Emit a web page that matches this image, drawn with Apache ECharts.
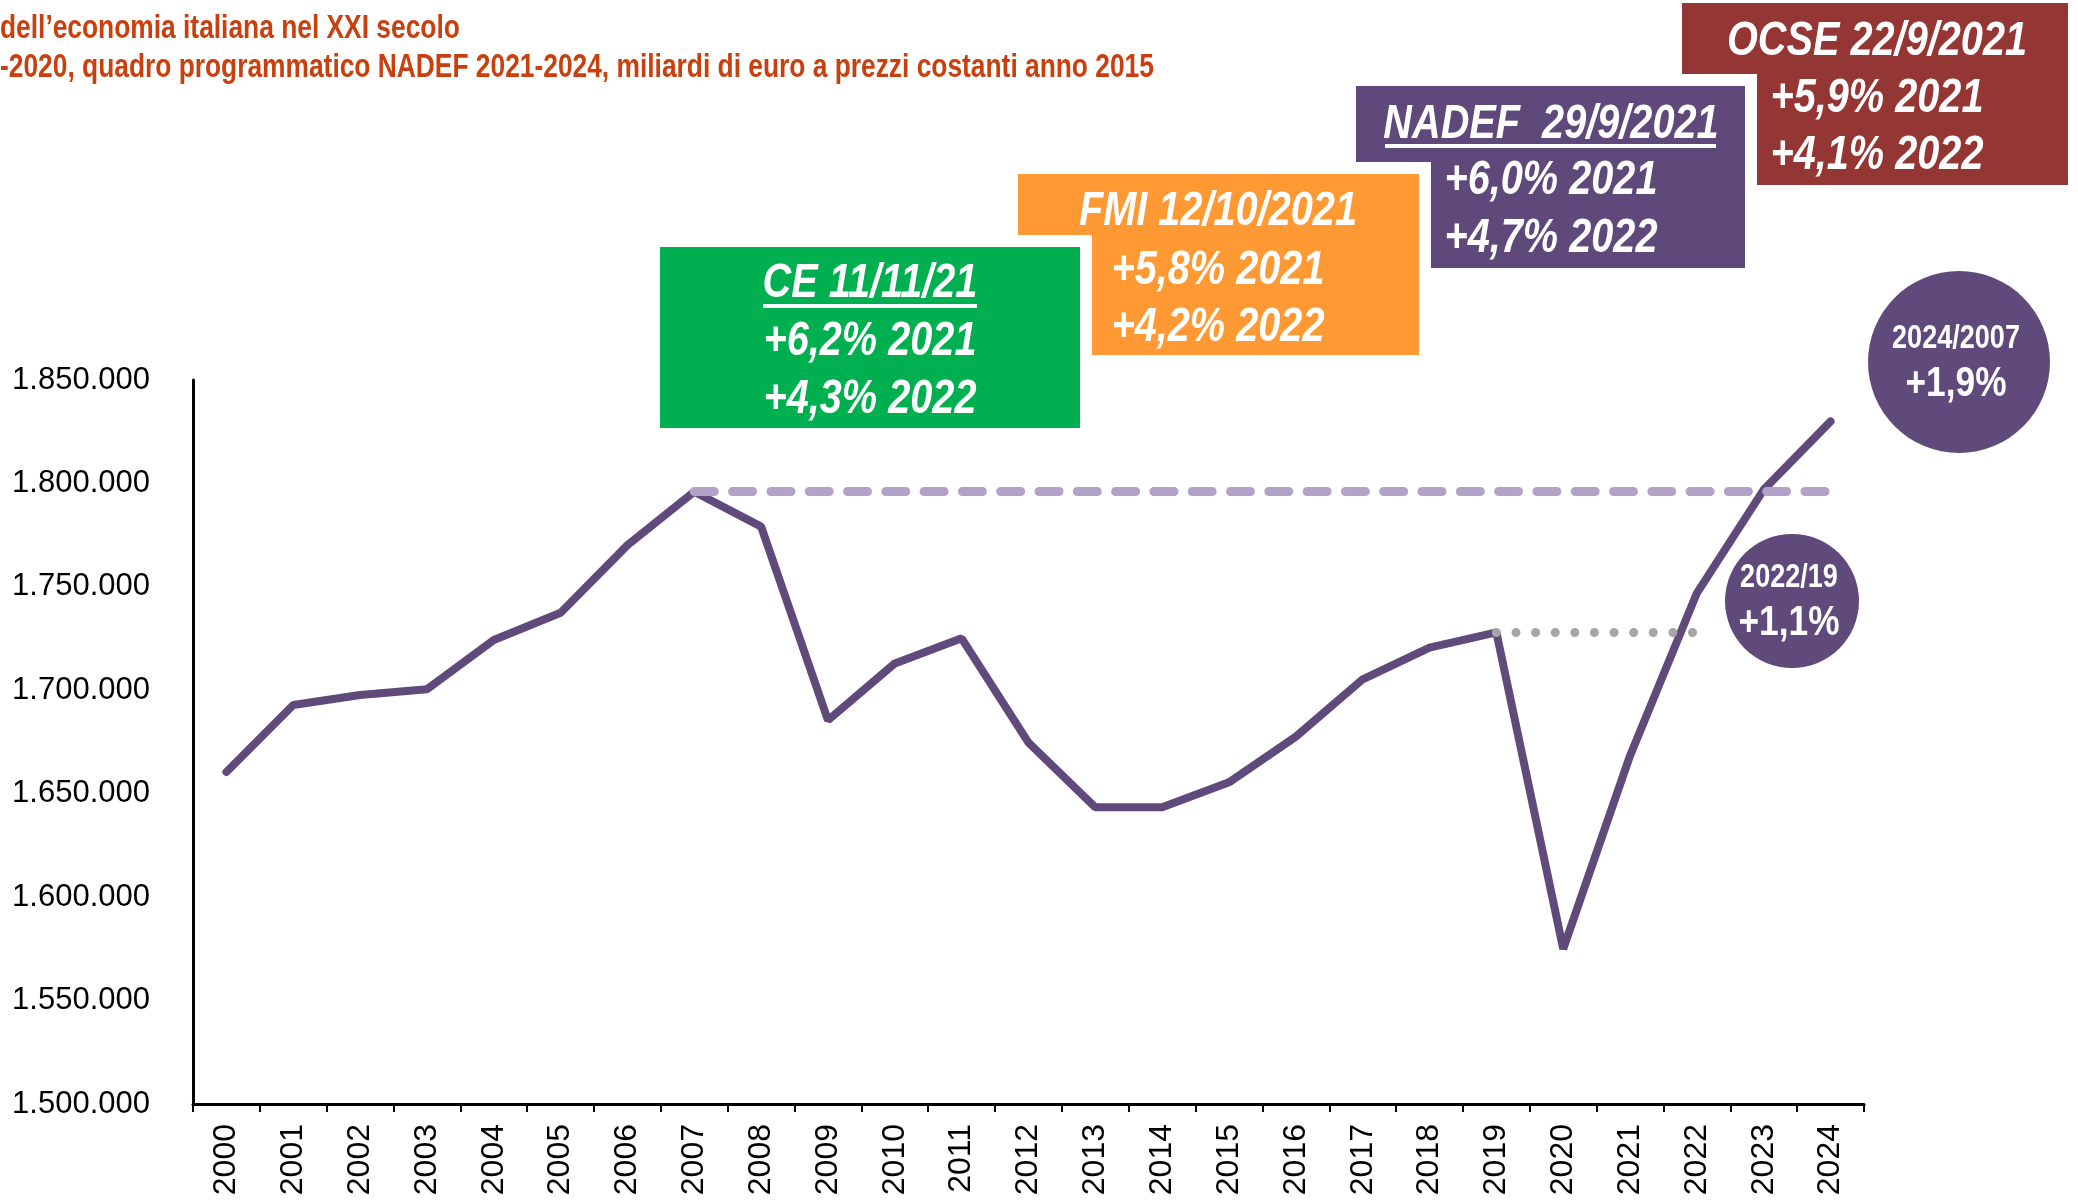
<!DOCTYPE html>
<html>
<head>
<meta charset="utf-8">
<script src="https://cdn.jsdelivr.net/npm/echarts@6/dist/echarts.min.js"></script>
<style>
  html, body { margin: 0; padding: 0; background: #fff; }
  #chart { width: 2078px; height: 1203px; }
</style>
</head>
<body>
<div id="chart"></div>
<script>
// dati: PIL reale, milioni di euro a prezzi 2015
var anni = ['2000', '2001', '2002', '2003', '2004', '2005', '2006', '2007', '2008', '2009',
            '2010', '2011', '2012', '2013', '2014', '2015', '2016', '2017', '2018', '2019',
            '2020', '2021', '2022', '2023', '2024'];
var pil = [1660500, 1692900, 1697700, 1700500, 1724300, 1737500, 1770200, 1796000, 1779100, 1685500,
           1713000, 1725100, 1674700, 1643400, 1643500, 1655500, 1677600, 1705300, 1720600, 1728000,
           1575000, 1668400, 1747000, 1797000, 1830000];
var yMin = 1500000, yMax = 1850000, yStep = 50000;

var titoli = [
    'dell\u2019economia italiana nel XXI secolo',
    '-2020, quadro programmatico NADEF 2021-2024, miliardi di euro a prezzi costanti anno 2015'
];
// riquadri previsioni: titolo, righe
var ocse  = ['OCSE 22/9/2021', '+5,9% 2021', '+4,1% 2022'];
var nadef = ['NADEF  29/9/2021', '+6,0% 2021', '+4,7% 2022'];
var fmi   = ['FMI 12/10/2021', '+5,8% 2021', '+4,2% 2022'];
var ce    = ['CE 11/11/21', '+6,2% 2021', '+4,3% 2022'];
var cerchio1 = ['2024/2007', '+1,9%'];
var cerchio2 = ['2022/19', '+1,1%'];

var SANS = "'Liberation Sans', Arial, sans-serif";
var VIOLA = '#604A7B';

function fmtNum(v) {
    return String(v).replace(/\B(?=(\d{3})+(?!\d))/g, '.');
}

// niente Arial Narrow installato: si stringe Liberation Sans con scaleX
function testo(t, x, y, font, sx, align) {
    return {
        type: 'text', x: x, y: y, scaleX: sx,
        style: { text: t, fill: '#fff', font: font, align: align || 'center', verticalAlign: 'middle' }
    };
}

// riquadro colorato con bordo bianco e tre righe di testo
function box(x, y, w, h, color, righe, cx, mids, underline) {
    var out = [
        { type: 'rect', shape: { x: x - 12, y: y - 12, width: w + 24, height: h + 24 }, style: { fill: '#fff' } },
        { type: 'rect', shape: { x: x, y: y, width: w, height: h }, style: { fill: color } }
    ];
    for (var i = 0; i < righe.length; i++) {
        out.push(testo(righe[i], cx, mids[i], 'italic bold 49px ' + SANS, 0.81));
    }
    if (underline) {
        out.push({ type: 'rect', shape: underline, style: { fill: '#fff' } });
    }
    return out;
}

function cerchio(cx, cy, r, righe, mids) {
    return [
        { type: 'circle', shape: { cx: cx, cy: cy, r: r }, style: { fill: VIOLA } },
        testo(righe[0], cx - 3, mids[0], 'bold 33px ' + SANS, 0.82),
        testo(righe[1], cx - 3, mids[1], 'bold 43px ' + SANS, 0.82)
    ];
}

var titolo1 = testo(titoli[0], 0, 29, 'bold 34px ' + SANS, 0.775, 'left');
var titolo2 = testo(titoli[1], 0, 68, 'bold 34px ' + SANS, 0.775, 'left');
titolo1.style.fill = titolo2.style.fill = '#C9400E';

var grafica = [titolo1, titolo2]
    .concat(box(1682, 3, 386, 182, '#943634', ocse, 1877, [41, 98, 155], null))
    .concat(box(1356, 86, 389, 182, '#5F497A', nadef, 1551, [124, 180, 238], { x: 1385, y: 144, width: 331, height: 4 }))
    .concat(box(1018, 174, 401, 181, '#FF9933', fmi, 1218, [211, 270, 327], null))
    .concat(box(660, 247, 420, 181, '#00B050', ce, 870, [283, 341, 399], { x: 763, y: 304, width: 214, height: 4 }))
    .concat(cerchio(1959, 362, 91, cerchio1, [339, 384]))
    .concat(cerchio(1792, 601, 67, cerchio2, [578, 623]));

var chart = echarts.init(document.getElementById('chart'));
chart.setOption({
    animation: false,
    grid: { left: 193, right: 214, top: 380, bottom: 99, containLabel: false, outerBoundsMode: 'none' },
    xAxis: {
        type: 'category',
        data: anni,
        boundaryGap: true,
        axisLine: { lineStyle: { color: '#000', width: 3 } },
        axisTick: { show: true, length: 8, lineStyle: { color: '#000', width: 2 } },
        axisLabel: { interval: 0, rotate: 90, margin: 20, fontSize: 32, fontFamily: SANS, color: '#000' }
    },
    yAxis: {
        type: 'value',
        min: yMin,
        max: yMax,
        interval: yStep,
        axisLine: { show: true, lineStyle: { color: '#000', width: 3 } },
        axisTick: { show: false },
        splitLine: { show: false },
        axisLabel: { margin: 43, fontSize: 31, fontFamily: SANS, color: '#000', formatter: fmtNum }
    },
    series: [{
        type: 'line',
        data: pil,
        showSymbol: false,
        lineStyle: { color: VIOLA, width: 8, cap: 'round' },
        markLine: {
            silent: true,
            symbol: ['none', 'none'],
            label: { show: false },
            data: [
                [
                    { coord: ['2007', pil[7]], lineStyle: { color: '#B3A2C7', width: 9, type: [20, 18.3], cap: 'round' } },
                    { coord: ['2024', pil[7]] }
                ],
                [
                    { coord: ['2019', pil[19]], lineStyle: { color: '#A6A6A6', width: 9, type: [0.01, 19.6], cap: 'round' } },
                    { coord: ['2022', pil[19]] }
                ]
            ]
        }
    }],
    graphic: grafica
});
</script>
</body>
</html>
